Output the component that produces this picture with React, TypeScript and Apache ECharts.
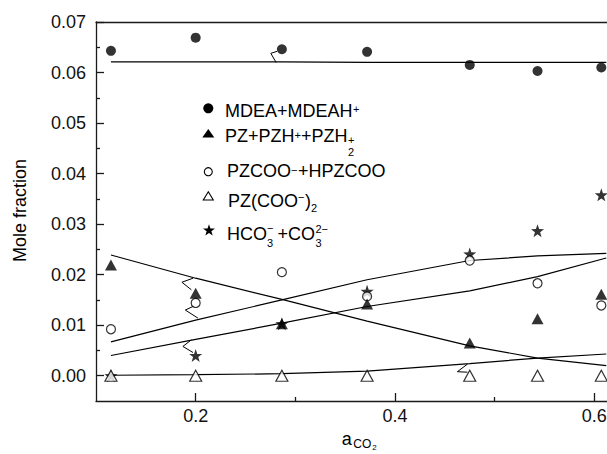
import React, { useEffect, useRef } from 'react';
import * as echarts from 'echarts';

// ---- data ----
const dataX = [0.115, 0.2, 0.2865, 0.372, 0.475, 0.543, 0.607];
const mdeaValues = [0.0643, 0.0669, 0.0646, 0.0641, 0.0615, 0.0603, 0.061];
const pzValues = [0.0219, 0.0163, 0.0103, 0.0142, 0.0065, 0.0113, 0.0161];
const pzcooValues = [0.0092, 0.0144, 0.0205, 0.0157, 0.0228, 0.0183, 0.0139];
const pzcoo2Values = [0, 0, 0, 0, 0, 0, 0];
const hco3Values = [0.0, 0.004, 0.0103, 0.0167, 0.0241, 0.0287, 0.0358];

const modelX = [0.115, 0.2, 0.2865, 0.372, 0.475, 0.543, 0.612];
const mdeaModel = [0.0621, 0.0621, 0.0621, 0.062, 0.062, 0.062, 0.062];
const pzModel = [0.0239, 0.0193, 0.0151, 0.0108, 0.0059, 0.0035, 0.002];
const pzcooModel = [0.0067, 0.011, 0.015, 0.019, 0.0228, 0.0237, 0.0242];
const pzcoo2Model = [0.0001, 0.0002, 0.0004, 0.0009, 0.0024, 0.0035, 0.0043];
const hco3Model = [0.004, 0.0072, 0.0104, 0.0137, 0.0168, 0.0196, 0.0233];

// small zig-zag leader marks (data coordinates)
const breakMarks = [
  [[0.2817, 0.0642], [0.2754, 0.0638], [0.2807, 0.062]],
  [[0.1973, 0.0193], [0.1862, 0.0185], [0.1957, 0.017]],
  [[0.1983, 0.0138], [0.1896, 0.013], [0.2023, 0.0114]],
  [[0.1957, 0.0071], [0.1872, 0.0058], [0.1973, 0.0046]],
  [[0.4727, 0.0023], [0.4626, 0.0008], [0.4727, 0.0007]],
];

// the reference is cut off at the right edge of the picture: the plot runs to 0.7
const xMin = 0.1;
const xMax = 0.7;
const yMin = -0.005;
const yMax = 0.07;
const xTickValues = [0.2, 0.4, 0.6];
const xMinorTickValues = [0.3, 0.5];
const yTickValues = [0, 0.01, 0.02, 0.03, 0.04, 0.05, 0.06, 0.07];
const yMinorTickValues = [0.005, 0.015, 0.025, 0.035, 0.045, 0.055, 0.065];

const FONT = '"Liberation Sans", Arial, Helvetica, sans-serif';
const INK = '#000';
const AXIS = '#1a1a1a';

function starPoints(cx: number, cy: number, R: number, r: number): number[][] {
  const pts: number[][] = [];
  for (let i = 0; i < 10; i++) {
    const ang = -Math.PI / 2 + (i * Math.PI) / 5;
    const rad = i % 2 === 0 ? R : r;
    pts.push([cx + rad * Math.cos(ang), cy + rad * Math.sin(ang)]);
  }
  return pts;
}

const starSymbol =
  'path://' +
  starPoints(0, 0, 1, 0.4)
    .map((p, i) => (i === 0 ? 'M' : 'L') + p[0].toFixed(4) + ',' + p[1].toFixed(4))
    .join('') +
  'Z';

const zip = (xs: number[], ys: number[]) => xs.map((x, i) => [x, ys[i]]);

function txt(text: string, x: number, y: number, size: number) {
  return {
    type: 'text',
    x,
    y,
    silent: true,
    style: {
      text,
      fontSize: size,
      fontFamily: FONT,
      fill: INK,
      align: 'left',
      textAlign: 'left',
      verticalAlign: 'middle',
      textVerticalAlign: 'middle',
    },
  };
}

export default function App() {
  const ref = useRef<HTMLDivElement>(null);

  useEffect(() => {
    if (!ref.current) return;
    const chart = echarts.init(ref.current, undefined, { renderer: 'svg' });

    const lineSeries = (data: number[]) => ({
      type: 'line',
      xAxisIndex: 0,
      yAxisIndex: 0,
      data: zip(modelX, data),
      showSymbol: false,
      symbol: 'none',
      silent: true,
      z: 3,
      lineStyle: { color: INK, width: 1.2 },
    });

    const scatter = (data: number[], symbol: string, size: any, filled: boolean) => ({
      type: 'scatter',
      xAxisIndex: 0,
      yAxisIndex: 0,
      data: zip(dataX, data),
      symbol,
      symbolSize: size,
      silent: true,
      z: 5,
      itemStyle: filled
        ? { color: INK }
        : { color: '#fff', borderColor: INK, borderWidth: 1.2 },
    });

    const small = 11;
    const graphic: any[] = [
      // legend markers
      { type: 'circle', shape: { cx: 208.3, cy: 108.3, r: 5 }, style: { fill: INK } },
      {
        type: 'polygon',
        shape: { points: [[202.3, 137.5], [214.3, 137.5], [208.3, 129]] },
        style: { fill: INK },
      },
      {
        type: 'circle',
        shape: { cx: 208.3, cy: 171.7, r: 4 },
        style: { fill: '#fff', stroke: INK, lineWidth: 1.1 },
      },
      {
        type: 'polygon',
        shape: { points: [[203.3, 200], [213.3, 200], [208.3, 191.7]] },
        style: { fill: '#fff', stroke: INK, lineWidth: 1.1 },
      },
      {
        type: 'polygon',
        shape: { points: starPoints(209, 230.5, 6.3, 2.5) },
        style: { fill: INK },
      },
      // row 1
      txt('MDEA+MDEAH', 225, 110.7, 18),
      txt('+', 353, 108.5, small),
      // row 2
      txt('PZ+PZH', 225, 136.3, 18),
      txt('+', 294.5, 134.5, small),
      txt('+PZH', 301, 136.3, 18),
      txt('+', 348, 139.5, small),
      txt('2', 348, 151.5, small),
      // row 3
      txt('PZCOO', 227, 171.2, 18),
      txt('\u2212', 291, 169.7, small),
      txt('+HPZCOO', 298, 171.2, 18),
      // row 4
      txt('PZ(COO', 228, 200.8, 18),
      txt('\u2212', 298, 197.3, small),
      txt(')', 305, 200.8, 18),
      txt('2', 311, 208, small),
      // row 5
      txt('HCO', 227, 234.2, 18),
      txt('\u2212', 267, 228, small),
      txt('3', 267, 242.5, small),
      txt('+CO', 277.5, 234.2, 18),
      txt('2\u2212', 315.5, 228.5, small),
      txt('3', 315.5, 242.5, small),
      // x-axis name: a_CO2
      txt('a', 341.7, 439.3, 18),
      txt('CO', 353.3, 443.7, 12),
      txt('2', 372.3, 447.5, 8),
      // y-axis name
      {
        type: 'text',
        x: 20,
        y: 210.5,
        rotation: Math.PI / 2,
        silent: true,
        style: {
          text: 'Mole fraction',
          fontSize: 18,
          fontFamily: FONT,
          fill: INK,
          align: 'center',
          textAlign: 'center',
          verticalAlign: 'middle',
          textVerticalAlign: 'middle',
        },
      },
    ];

    const axisLineStyle = { color: AXIS, width: 1.3 };
    const labelStyle = { color: '#111', fontSize: 18, fontFamily: FONT };

    chart.setOption({
      animation: false,
      backgroundColor: '#fff',
      grid: { left: 96, top: 22, bottom: 53, right: 6, containLabel: false },
      xAxis: [
        {
          type: 'value',
          position: 'bottom',
          min: xMin,
          max: xMax,
          axisLine: { show: true, onZero: false, lineStyle: axisLineStyle },
          axisTick: {
            show: true,
            inside: true,
            length: 8,
            customValues: xTickValues,
            lineStyle: axisLineStyle,
          },
          axisLabel: {
            show: true,
            customValues: xTickValues,
            formatter: (v: number) => v.toFixed(1),
            margin: 6,
            ...labelStyle,
          },
          splitLine: { show: false },
        },
        {
          type: 'value',
          position: 'bottom',
          min: xMin,
          max: xMax,
          axisLine: { show: false, onZero: false },
          axisTick: {
            show: true,
            inside: true,
            length: 4,
            customValues: xMinorTickValues,
            lineStyle: axisLineStyle,
          },
          axisLabel: { show: false },
          splitLine: { show: false },
        },
        {
          type: 'value',
          position: 'top',
          min: xMin,
          max: xMax,
          axisLine: { show: true, onZero: false, lineStyle: axisLineStyle },
          axisTick: { show: false },
          axisLabel: { show: false },
          splitLine: { show: false },
        },
      ],
      yAxis: [
        {
          type: 'value',
          position: 'left',
          min: yMin,
          max: yMax,
          axisLine: { show: true, onZero: false, lineStyle: axisLineStyle },
          axisTick: {
            show: true,
            inside: true,
            length: 8,
            customValues: yTickValues,
            lineStyle: axisLineStyle,
          },
          axisLabel: {
            show: true,
            customValues: yTickValues,
            formatter: (v: number) => v.toFixed(2),
            margin: 10,
            ...labelStyle,
          },
          splitLine: { show: false },
        },
        {
          type: 'value',
          position: 'left',
          min: yMin,
          max: yMax,
          axisLine: { show: false, onZero: false },
          axisTick: {
            show: true,
            inside: true,
            length: 4,
            customValues: yMinorTickValues,
            lineStyle: axisLineStyle,
          },
          axisLabel: { show: false },
          splitLine: { show: false },
        },
      ],
      series: [
        lineSeries(mdeaModel),
        lineSeries(pzModel),
        lineSeries(pzcooModel),
        lineSeries(pzcoo2Model),
        lineSeries(hco3Model),
        ...breakMarks.map((m) => ({
          type: 'line',
          xAxisIndex: 0,
          yAxisIndex: 0,
          data: m,
          showSymbol: false,
          symbol: 'none',
          silent: true,
          z: 3,
          lineStyle: { color: INK, width: 1 },
        })),
        scatter(hco3Values, starSymbol, 13, true),
        scatter(pzcooValues, 'circle', 9, false),
        scatter(pzcoo2Values, 'triangle', [12, 11], false),
        scatter(mdeaValues, 'circle', 10, true),
        scatter(pzValues, 'triangle', [12, 11], true),
      ],
      graphic,
    });

    return () => chart.dispose();
  }, []);

  return (
    <div
      style={{ position: 'absolute', left: 0, top: 0, width: 607, height: 454, overflow: 'hidden' }}
    >
      <div ref={ref} style={{ width: 700, height: 454 }} />
    </div>
  );
}
